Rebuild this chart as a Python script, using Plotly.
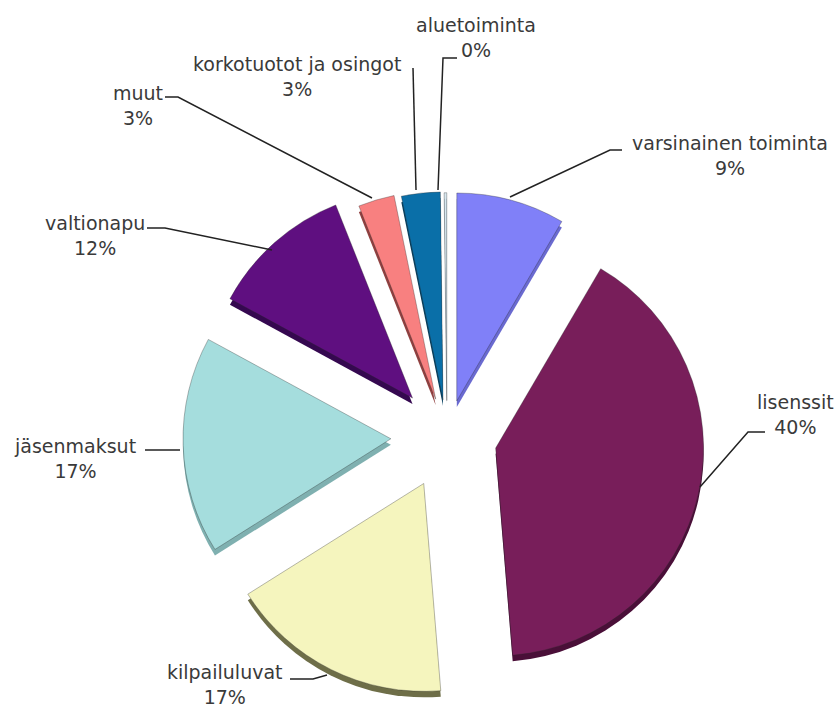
import plotly.graph_objects as go

labels = ["varsinainen toiminta", "lisenssit", "kilpailuluvat", "jäsenmaksut", "valtionapu", "muut", "korkotuotot ja osingot", "aluetoiminta"]
values = [8.4, 40.1, 17.3, 16.8, 11.0, 2.8, 3.0, 0.2]
shown = ["9%", "40%", "17%", "17%", "12%", "3%", "3%", "0%"]
pulls = [0.18, 0.24, 0.25, 0.27, 0.25, 0.19, 0.18, 0.175]
colors = ["#8080F8", "#781E5A", "#F5F5BE", "#A5DDDD", "#5F0F80", "#F88080", "#0A6FA8", "#D8E8F0"]
shades = ["#6A6AD0", "#4A0F38", "#6E6E48", "#7FB0B0", "#350850", "#904040", "#064060", "#8090A0"]
W, H = 838, 707
cx, cy, half = 447, 437, 264
depth = 6

label_x = [730, 795, 225, 75, 95, 138, 297, 476]
label_y = [155, 414, 684, 458, 236, 105, 77, 37]
leaders = [
    [(622, 150), (610, 150), (510, 197)],
    [(765, 432), (748, 432), (700, 487)],
    [(290, 679), (313, 679), (327, 675)],
    [(145, 450), (180, 450)],
    [(147, 228), (165, 228), (272, 250)],
    [(165, 97), (178, 97), (372, 198)],
    [(413, 68), (416, 190)],
    [(457, 58), (443, 58), (438, 190)],
]

def dom(dy):
    return dict(x=[(cx - half) / W, (cx + half) / W],
                y=[1 - (cy + dy + half) / H, 1 - (cy + dy - half) / H])

def pie(cols, dy, edge):
    return go.Pie(labels=labels, values=values, pull=pulls, sort=False, direction="clockwise",
                  rotation=0, textinfo="none", hoverinfo="label+percent", showlegend=False,
                  marker=dict(colors=cols, line=dict(width=edge, color="rgba(40,40,40,0.55)")), domain=dom(dy))

fig = go.Figure([pie(shades, depth, 0), pie(colors, 0, 0.6)])

font = dict(family="DejaVu Sans", size=19, color="#3A3A3A")
for name, pct, x, y in zip(labels, shown, label_x, label_y):
    fig.add_annotation(text=f"{name}<br>{pct}", x=x / W, y=1 - y / H, xref="paper", yref="paper",
                       showarrow=False, font=font, align="center", xanchor="center", yanchor="middle")
for pts in leaders:
    path = "M" + " L".join(f"{x / W} {1 - y / H}" for x, y in pts)
    fig.add_shape(type="path", path=path, xref="paper", yref="paper", line=dict(color="#222222", width=1.5))

fig.update_layout(width=W, height=H, margin=dict(l=0, r=0, t=0, b=0), paper_bgcolor="white")
fig.write_html("out.html", post_script="document.body.style.margin='0';", config={"displayModeBar": False})
